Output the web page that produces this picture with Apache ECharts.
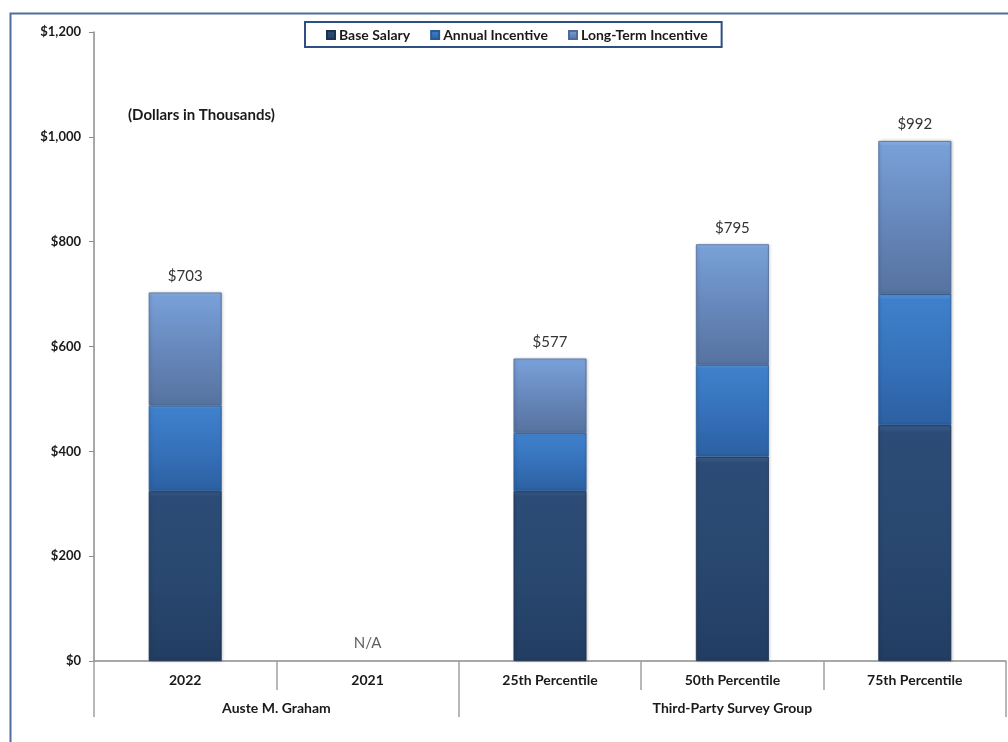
<!DOCTYPE html>
<html>
<head>
<meta charset="utf-8">
<script src="https://cdn.jsdelivr.net/npm/echarts@6/dist/echarts.min.js"></script>
<style>
html,body{margin:0;padding:0;background:#fff;}
#chart{width:1008px;height:742px;}
</style>
</head>
<body>
<div id="chart"></div>
<script>
var categories = ['2022', '2021', '25th Percentile', '50th Percentile', '75th Percentile'];
var groupNames = ['Auste M. Graham', 'Third-Party Survey Group'];
var groupSpans = [2, 3];
var baseSalary = [324, null, 324, 390, 450];
var annualIncentive = [163, null, 111, 175, 250];
var longTermIncentive = [216, null, 142, 230, 292];
var totalLabels = ['$703', 'N/A', '$577', '$795', '$992'];

var FONT = 'Lato, "Open Sans", sans-serif';

function grad(stops) {
  return new echarts.graphic.LinearGradient(0, 0, 0, 1, stops.map(function (s) { return { offset: s[0], color: s[1] }; }));
}

var bounds = [0], acc = 0;
groupSpans.forEach(function (s) { acc += s; bounds.push(acc); });
var groupMid = groupSpans.map(function (s, i) { return bounds[i] + s / 2; });

var naData = totalLabels.map(function (t) { return t === 'N/A' ? 0 : null; });

var chart = echarts.init(document.getElementById('chart'));
chart.setOption({
  animation: false,
  backgroundColor: '#ffffff',
  textStyle: { fontFamily: FONT },
  graphic: [
    { type: 'rect', left: 8, top: 11, shape: { width: 1010, height: 740 },
      style: { fill: 'none', stroke: '#4f6f9a', lineWidth: 2 }, silent: true, z: -1 },
    { type: 'text', left: 128, top: 108,
      style: { text: '(Dollars in Thousands)', fill: '#1a1a1a', font: 'bold 15px ' + FONT } }
  ],
  legend: {
    data: ['Base Salary', 'Annual Incentive', 'Long-Term Incentive'],
    left: 305, top: 22,
    padding: [6, 14, 5, 21],
    itemGap: 20,
    itemWidth: 8, itemHeight: 8,
    icon: 'rect',
    borderColor: '#2e4f82', borderWidth: 2,
    backgroundColor: '#fff',
    textStyle: { fontFamily: FONT, fontWeight: 'bold', fontSize: 14, color: '#1a1a1a', padding: [0, 0, 0, -1] }
  },
  grid: { left: 94, right: 2, top: 32, bottom: 81, containLabel: false },
  xAxis: [
    {
      type: 'category',
      data: categories,
      axisLine: { lineStyle: { color: '#8c8c8c', width: 1.5 } },
      axisTick: { show: true, interval: 0, length: 29, alignWithLabel: false, lineStyle: { color: '#a0a0a0', width: 1.5 } },
      axisLabel: { interval: 0, margin: 12, fontFamily: FONT, fontWeight: 'bold', fontSize: 14, color: '#1a1a1a' }
    },
    {
      type: 'value',
      position: 'bottom',
      min: 0, max: categories.length,
      axisLine: { show: false },
      splitLine: { show: false },
      axisTick: { show: true, customValues: bounds, length: 56, lineStyle: { color: '#a0a0a0', width: 1.5 } },
      axisLabel: {
        customValues: groupMid, margin: 40,
        fontFamily: FONT, fontWeight: 'bold', fontSize: 14, color: '#1a1a1a',
        formatter: function (v) {
          var idx = groupMid.indexOf(v);
          return idx >= 0 ? groupNames[idx] : '';
        }
      }
    }
  ],
  yAxis: {
    type: 'value',
    min: 0, max: 1200, interval: 200,
    axisLine: { show: true, lineStyle: { color: '#8c8c8c', width: 1.5 } },
    axisTick: { show: true, length: 5, lineStyle: { color: '#8c8c8c' } },
    splitLine: { show: false },
    axisLabel: {
      margin: 13, fontFamily: FONT, fontWeight: 'bold', fontSize: 13, color: '#1a1a1a',
      formatter: function (v) { return '$' + v.toLocaleString('en-US'); }
    }
  },
  series: [
    {
      name: 'Base Salary', type: 'bar', stack: 'total', barWidth: '40%',
      data: baseSalary,
      itemStyle: {
        color: grad([[0, '#3d5f8c'], [0.03, '#2c4c77'], [0.5, '#294870'], [1, '#223d62']]),
        borderColor: '#1d3150', borderWidth: 0.8,
        shadowColor: 'rgba(0,0,0,0.25)', shadowBlur: 3, shadowOffsetX: 1
      }
    },
    {
      name: 'Annual Incentive', type: 'bar', stack: 'total',
      data: annualIncentive,
      itemStyle: {
        color: grad([[0, '#5c9ee6'], [0.04, '#3f80cc'], [0.5, '#3672bb'], [1, '#2c60a2']]),
        borderColor: '#285a95', borderWidth: 0.8,
        shadowColor: 'rgba(0,0,0,0.25)', shadowBlur: 3, shadowOffsetX: 1
      }
    },
    {
      name: 'Long-Term Incentive', type: 'bar', stack: 'total',
      data: longTermIncentive,
      itemStyle: {
        color: grad([[0, '#8fb6ea'], [0.03, '#78a0d8'], [0.5, '#6788bc'], [1, '#56739f']]),
        borderColor: '#4d6a98', borderWidth: 0.8,
        shadowColor: 'rgba(0,0,0,0.25)', shadowBlur: 3, shadowOffsetX: 1
      },
      label: {
        show: true, position: 'top', distance: 9,
        fontFamily: FONT, fontSize: 15, color: '#333',
        formatter: function (p) { return totalLabels[p.dataIndex]; }
      }
    },
    {
      name: 'N/A', type: 'scatter', symbolSize: 0,
      data: naData,
      label: {
        show: true, position: 'top', distance: 10,
        fontFamily: FONT, fontSize: 15, color: '#333',
        formatter: function (p) { return totalLabels[p.dataIndex]; }
      }
    }
  ]
});
</script>
</body>
</html>
